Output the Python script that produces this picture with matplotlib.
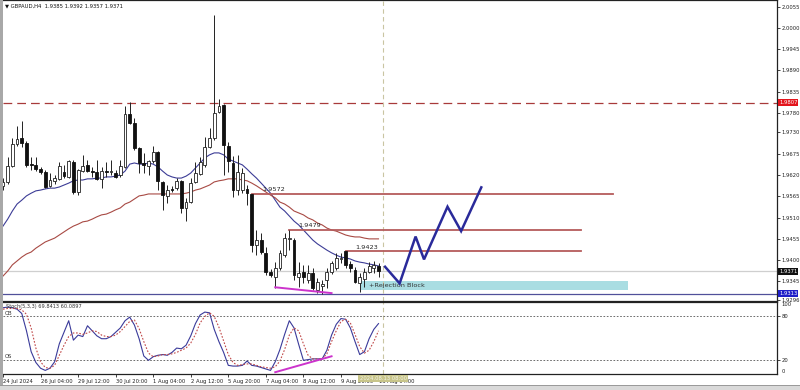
import matplotlib
matplotlib.use("Agg")
import matplotlib.pyplot as plt
import matplotlib.font_manager as fm
import matplotlib.transforms as mtransforms
from matplotlib.patches import Rectangle
import numpy as np

# GBPAUD H4, one value per bar (24 Jul 20:00 .. 13 Aug 04:00)
opens = [1.9591, 1.9602, 1.9643, 1.9700, 1.9716, 1.9703, 1.9648, 1.9646, 1.9636, 1.9628,
         1.9592, 1.9605, 1.9610, 1.9628, 1.9615, 1.9654, 1.9576, 1.9630, 1.9646, 1.9630,
         1.9628, 1.9610, 1.9629, 1.9628, 1.9625, 1.9620, 1.9641, 1.9778, 1.9754, 1.9690,
         1.9651, 1.9643, 1.9656, 1.9680, 1.9602, 1.9566, 1.9584, 1.9586, 1.9605, 1.9535,
         1.9550, 1.9602, 1.9623, 1.9646, 1.9692, 1.9716, 1.9783, 1.9801, 1.9695, 1.9651,
         1.9581, 1.9581, 1.9584, 1.9572, 1.9439, 1.9452, 1.9418, 1.9370, 1.9357, 1.9380,
         1.9413, 1.9455, 1.9452, 1.9357, 1.9370, 1.9349, 1.9367, 1.9323, 1.9333, 1.9349,
         1.9370, 1.9380, 1.9403, 1.9423, 1.9390, 1.9375, 1.9342, 1.9352, 1.9370, 1.9380,
         1.9385]
highs = [1.9612, 1.9667, 1.9716, 1.9747, 1.9759, 1.9708, 1.9667, 1.9667, 1.9641, 1.9633,
         1.9625, 1.9620, 1.9654, 1.9646, 1.9659, 1.9659, 1.9636, 1.9672, 1.9659, 1.9641,
         1.9659, 1.9641, 1.9654, 1.9659, 1.9633, 1.9659, 1.9798, 1.9808, 1.9767, 1.9692,
         1.9677, 1.9659, 1.9695, 1.9682, 1.9605, 1.9594, 1.9592, 1.9612, 1.9607, 1.9561,
         1.9612, 1.9654, 1.9667, 1.9718, 1.9741, 2.0033, 1.9816, 1.9803, 1.9705, 1.9669,
         1.9672, 1.9638, 1.9594, 1.9572, 1.9478, 1.9470, 1.9434, 1.9377, 1.9395, 1.9426,
         1.9470, 1.9479, 1.9457, 1.9395, 1.9388, 1.9388, 1.9380, 1.9354, 1.9349, 1.9380,
         1.9398, 1.9419, 1.9419, 1.9423, 1.9398, 1.9383, 1.9367, 1.9380, 1.9395, 1.9398,
         1.9392]
lows = [1.9581, 1.9597, 1.9641, 1.9695, 1.9693, 1.9641, 1.9633, 1.9630, 1.9623, 1.9586,
        1.9589, 1.9597, 1.9607, 1.9612, 1.9612, 1.9571, 1.9568, 1.9628, 1.9628, 1.9615,
        1.9607, 1.9586, 1.9615, 1.9620, 1.9612, 1.9615, 1.9638, 1.9752, 1.9685, 1.9625,
        1.9625, 1.9620, 1.9651, 1.9581, 1.9530, 1.9548, 1.9576, 1.9581, 1.9522, 1.9501,
        1.9548, 1.9599, 1.9620, 1.9641, 1.9690, 1.9710, 1.9780, 1.9620, 1.9628, 1.9563,
        1.9568, 1.9573, 1.9543, 1.9421, 1.9413, 1.9416, 1.9362, 1.9357, 1.9328, 1.9375,
        1.9408, 1.9426, 1.9349, 1.9331, 1.9342, 1.9342, 1.9323, 1.9315, 1.9313, 1.9328,
        1.9365, 1.9375, 1.9393, 1.9380, 1.9370, 1.9342, 1.9318, 1.9331, 1.9367, 1.9367,
        1.9357]
closes = [1.9602, 1.9643, 1.9700, 1.9713, 1.9703, 1.9646, 1.9646, 1.9636, 1.9628, 1.9589,
          1.9607, 1.9612, 1.9643, 1.9617, 1.9656, 1.9576, 1.9633, 1.9643, 1.9630, 1.9628,
          1.9610, 1.9630, 1.9628, 1.9629, 1.9615, 1.9643, 1.9778, 1.9754, 1.9690, 1.9651,
          1.9646, 1.9656, 1.9680, 1.9605, 1.9568, 1.9581, 1.9581, 1.9605, 1.9535, 1.9550,
          1.9599, 1.9625, 1.9654, 1.9692, 1.9716, 1.9780, 1.9798, 1.9697, 1.9656, 1.9581,
          1.9628, 1.9625, 1.9573, 1.9439, 1.9452, 1.9421, 1.9370, 1.9362, 1.9380, 1.9418,
          1.9457, 1.9457, 1.9362, 1.9367, 1.9357, 1.9367, 1.9328, 1.9344, 1.9338, 1.9370,
          1.9393, 1.9406, 1.9406, 1.9388, 1.9380, 1.9344, 1.9357, 1.9370, 1.9385, 1.9388,
          1.9371]

ma_fast = [1.9488, 1.9506, 1.9527, 1.9545, 1.9555, 1.9566, 1.9573, 1.9579, 1.9581, 1.9584,
           1.9586, 1.9586, 1.9589, 1.9594, 1.9599, 1.9605, 1.9607, 1.9607, 1.9610, 1.9610,
           1.9612, 1.9612, 1.9615, 1.9615, 1.9617, 1.9620, 1.9630, 1.9648, 1.9651, 1.9648,
           1.9648, 1.9651, 1.9648, 1.9641, 1.9630, 1.9620, 1.9615, 1.9612, 1.9612, 1.9617,
           1.9625, 1.9638, 1.9651, 1.9664, 1.9672, 1.9677, 1.9677, 1.9672, 1.9661, 1.9656,
           1.9651, 1.9646, 1.9635, 1.9623, 1.9612, 1.9599, 1.9586, 1.9573, 1.9555, 1.9537,
           1.9527, 1.9514, 1.9501, 1.9491, 1.9478, 1.9465, 1.9452, 1.9442, 1.9434, 1.9426,
           1.9419, 1.9413, 1.9408, 1.9406, 1.9403, 1.9398, 1.9395, 1.9393, 1.9390, 1.9388,
           1.9385]
ma_slow = [1.9359, 1.9372, 1.9388, 1.9398, 1.9408, 1.9416, 1.9421, 1.9431, 1.9439, 1.9447,
           1.9452, 1.9457, 1.9465, 1.9473, 1.9481, 1.9488, 1.9493, 1.9499, 1.9501, 1.9506,
           1.9512, 1.9517, 1.9519, 1.9524, 1.9530, 1.9535, 1.9545, 1.9550, 1.9558, 1.9566,
           1.9568, 1.9571, 1.9571, 1.9571, 1.9571, 1.9571, 1.9571, 1.9571, 1.9571, 1.9573,
           1.9576, 1.9581, 1.9584, 1.9589, 1.9594, 1.9602, 1.9605, 1.9607, 1.9610, 1.9610,
           1.9610, 1.9607, 1.9605, 1.9599, 1.9592, 1.9584, 1.9576, 1.9568, 1.9561, 1.9550,
           1.9545, 1.9537, 1.9527, 1.9522, 1.9517, 1.9509, 1.9504, 1.9496, 1.9491, 1.9483,
           1.9478, 1.9475, 1.9470, 1.9465, 1.9462, 1.9460, 1.9460, 1.9457, 1.9455, 1.9455,
           1.9455]

stoch_k = [92, 93, 92, 90, 84, 60, 31, 16, 8, 5,
           8, 17, 42, 58, 74, 47, 54, 52, 67, 60,
           53, 49, 49, 52, 58, 64, 74, 79, 68, 49,
           25, 19, 24, 26, 27, 26, 30, 36, 35, 40,
           53, 70, 82, 86, 85, 62, 45, 30, 12, 11,
           11, 12, 18, 12, 11, 9, 7, 5, 17, 34,
           55, 74, 64, 41, 19, 20, 21, 21, 21, 33,
           54, 69, 77, 76, 64, 45, 27, 31, 49, 62,
           70]
stoch_d = [90, 91, 91, 91, 89, 83, 64, 36, 17, 9,
           8, 12, 26, 40, 52, 57, 57, 55, 57, 60,
           59, 54, 52, 52, 54, 59, 66, 73, 75, 63,
           45, 29, 24, 25, 27, 27, 28, 30, 33, 36,
           43, 55, 71, 80, 85, 80, 65, 46, 27, 16,
           12, 13, 14, 14, 12, 10, 9, 8, 10, 18,
           34, 54, 64, 60, 42, 26, 21, 21, 21, 28,
           45, 60, 73, 76, 71, 55, 38, 29, 33, 45,
           60]

# date labels every 8 bars
date_pos = [0, 8, 16, 24, 32, 40, 48, 56, 64, 72, 80]
date_labels = ["24 Jul 2024", "26 Jul 04:00", "29 Jul 12:00", "30 Jul 20:00", "1 Aug 04:00",
               "2 Aug 12:00", "5 Aug 20:00", "7 Aug 04:00", "8 Aug 12:00", "9 Aug 20:00",
               "13 Aug 04:00"]

price_ticks = [2.0055, 2.0000, 1.9945, 1.9890, 1.9835, 1.9780, 1.9730, 1.9675, 1.9620,
               1.9565, 1.9510, 1.9455, 1.9400, 1.9345, 1.9296]

# drawn levels: (price, first bar, last bar)
levels = [(1.9572, 53, 130.0), (1.9479, 61, 123.2), (1.9423, 73, 123.2)]
resistance = 1.9807
bid = 1.9371
support = 1.9313

# rejection block
block_bars = (76.3, 133.2)
block_prices = (1.9323, 1.9346)

# projected path
path_bars = [81.4, 84.5, 87.9, 89.7, 94.7, 97.6, 101.9]
path_prices = [1.9383, 1.9340, 1.9461, 1.9402, 1.9538, 1.9475, 1.9588]

# divergence lines
div_bars = [58, 70]
div_prices = [1.9330, 1.9315]
div_stoch = [2.5, 24.6]

cursor_bar = 81

avail = {f.name for f in fm.fontManager.ttflist}
if "Liberation Sans Narrow" in avail:
    fams = ["Liberation Sans Narrow", "DejaVu Sans"]
    k = 1.0
else:
    fams = ["DejaVu Sans"]
    k = 0.75
plt.rcParams["font.family"] = fams

fig = plt.figure(figsize=(8, 3.9), dpi=100)
ax = fig.add_axes([3 / 800, 1 - 301 / 390, 774 / 800, 301 / 390])
ax2 = fig.add_axes([3 / 800, 1 - 374 / 390, 774 / 800, 72 / 390], sharex=ax)

n = len(opens)
x = np.arange(n)
o = np.array(opens)
c = np.array(closes)

# candles
ax.vlines(x, lows, highs, color="#222222", lw=0.7, zorder=3)
up = c >= o
ax.bar(x[up], (c - o)[up], bottom=o[up], width=0.6, color="white",
       edgecolor="#222222", lw=0.6, zorder=4)
ax.bar(x[~up], (o - c)[~up], bottom=c[~up], width=0.6, color="#111111",
       edgecolor="#111111", lw=0.6, zorder=4)

ax.plot(x, ma_fast, color="#3c3c96", lw=0.8, zorder=2)
ax.plot(x, ma_slow, color="#a84a44", lw=0.8, zorder=2)

ax.axhline(resistance, color="#a83a3a", lw=0.9, dashes=(7, 4), zorder=1)
ax.axhline(bid, color="#cfcfcf", lw=0.9, zorder=1)
ax.axhline(support, color="#50509a", lw=0.9, zorder=1)

for p, b0, b1 in levels:
    ax.plot([b0, b1], [p, p], color="#b55c5c", lw=1.3, zorder=2)
    ax.text(b0 + 2.2 if b0 == 53 else b0 + 2.0, p + 0.0003, f"{p:.4f}",
            fontsize=6.2 * k, color="#222222", va="bottom", ha="left", zorder=5)

ax.add_patch(Rectangle((block_bars[0], block_prices[0]), block_bars[1] - block_bars[0],
                       block_prices[1] - block_prices[0], color="#a9dde2", lw=0, zorder=1))
ax.text(block_bars[0] + 1.7, sum(block_prices) / 2, "+Rejection Block",
        fontsize=6.2 * k, color="#333333", va="center", ha="left", zorder=5)

ax.plot(path_bars, path_prices, color="#2a2a9a", lw=1.8, zorder=6, solid_joinstyle="miter")
ax.plot(div_bars, div_prices, color="#cc33cc", lw=1.4, zorder=5)

ax.axvline(cursor_bar, color="#c9c5a2", lw=0.8, dashes=(4, 3), zorder=1)
ax2.axvline(cursor_bar, color="#c9c5a2", lw=0.8, dashes=(4, 3), zorder=1)

ax.set_xlim(0.06, 164.9)
ax.set_ylim(1.92946, 2.00718)
ax.yaxis.tick_right()
ax.set_yticks(price_ticks)
ax.set_yticklabels([f"{v:.4f}" for v in price_ticks])
ax.tick_params(axis="y", direction="out", length=2, width=0.6, pad=1.5,
               labelsize=5 * k, colors="#222222")
ax.tick_params(axis="x", bottom=False, labelbottom=False)

tr = mtransforms.blended_transform_factory(ax.transAxes, ax.transData)
for val, bg in [(resistance, "#e3141c"), (bid, "#111111"), (support, "#1f1fc8")]:
    ax.text(1.0025, val, f"{val:.4f}", transform=tr, fontsize=5 * k, color="white",
            va="center", ha="left", zorder=10, clip_on=False,
            bbox=dict(boxstyle="square,pad=0.2", fc=bg, ec="none"))

ax.text(0.0025, 0.988, "\u25bc GBPAUD,H4  1.9385 1.9392 1.9357 1.9371", transform=ax.transAxes,
        fontsize=5 * k, color="#111111", va="top", ha="left", family=fams)

# stochastic panel
ax2.plot(x, stoch_k, color="#3a3a9a", lw=0.8, zorder=3)
ax2.plot(x, stoch_d, color="#c04848", lw=0.8, dashes=(1.5, 1.5), zorder=3)
ax2.plot(div_bars, div_stoch, color="#cc33cc", lw=1.4, zorder=4)
for lv in (80, 20):
    ax2.axhline(lv, color="#555555", lw=0.6, dashes=(2, 2), zorder=1)
ax2.set_ylim(0, 100)
ax2.yaxis.tick_right()
ax2.set_yticks([80, 20])
ax2.set_yticklabels(["80", "20"])
ax2.tick_params(axis="y", direction="out", length=2, width=0.6, pad=1.5,
                labelsize=5 * k, colors="#222222")
tr2 = mtransforms.blended_transform_factory(ax2.transAxes, ax2.transData)
ax2.text(1.006, 100, "100", transform=tr2, fontsize=5 * k, va="top", ha="left", color="#222222")
ax2.text(1.006, 0, "0", transform=tr2, fontsize=5 * k, va="bottom", ha="left", color="#222222")
ax2.text(0.002, 81, "OB", transform=tr2, fontsize=5 * k, va="bottom", ha="left", color="#333333")
ax2.text(0.002, 21, "OS", transform=tr2, fontsize=5 * k, va="bottom", ha="left", color="#333333")
ax2.text(0.004, 97, "Stoch(5,3,3) 69.8413 60.0897", transform=tr2, fontsize=4.8 * k,
         va="top", ha="left", color="#333333")

ax2.set_xticks(date_pos)
ax2.set_xticklabels(date_labels, ha="left")
ax2.tick_params(axis="x", direction="out", length=2, width=0.6, pad=1.5,
                labelsize=5 * k, colors="#222222")
ax2.text(cursor_bar, -3, "2024.08.13 08:00", transform=mtransforms.blended_transform_factory(
    ax2.transData, ax2.transData), fontsize=5 * k, color="#f4f4e8", va="top", ha="center",
    zorder=20, clip_on=False, bbox=dict(boxstyle="square,pad=0.25", fc="#c8c58a", ec="none"))

for a in (ax, ax2):
    a.spines["left"].set_visible(False)
    for s in ("top", "right", "bottom"):
        a.spines[s].set_color("#222222")
        a.spines[s].set_linewidth(0.9)

fig.add_artist(Rectangle((0, 0), 2.5 / 800, 1, transform=fig.transFigure, color="#a8a8a8", lw=0))
fig.add_artist(Rectangle((0, 0), 1, 4 / 390, transform=fig.transFigure, color="#d9d9d9", lw=0))
fig.add_artist(Rectangle((0, 4 / 390), 1, 1 / 390, transform=fig.transFigure, color="#9a9a9a", lw=0))

fig.savefig("out.png", dpi=100, facecolor="white")
